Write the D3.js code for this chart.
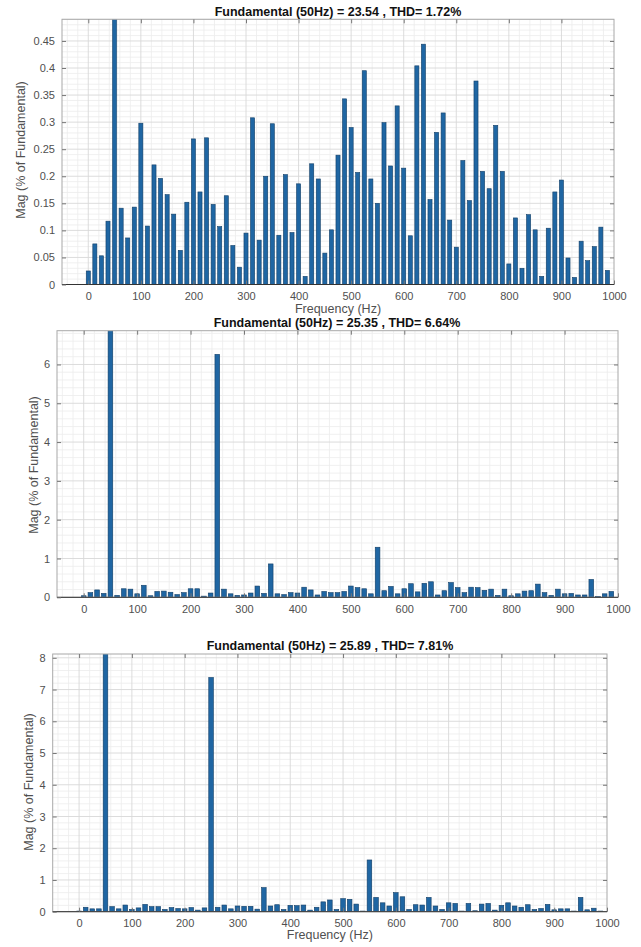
<!DOCTYPE html>
<html>
<head>
<meta charset="utf-8">
<script src="https://cdn.jsdelivr.net/npm/d3@7"></script>
<style>
  html, body { margin: 0; padding: 0; background: #fff; }
  svg { display: block; font-family: "Liberation Sans", Arial, Helvetica, sans-serif; }
</style>
</head>
<body>
<svg id="chart" width="641" height="947"></svg>
<script>
// ---------- DATA ----------
const freqs = [0,12.5,25,37.5,50,62.5,75,87.5,100,112.5,125,137.5,150,162.5,175,187.5,200,212.5,225,237.5,
  250,262.5,275,287.5,300,312.5,325,337.5,350,362.5,375,387.5,400,412.5,425,437.5,450,462.5,475,487.5,
  500,512.5,525,537.5,550,562.5,575,587.5,600,612.5,625,637.5,650,662.5,675,687.5,700,712.5,725,737.5,
  750,762.5,775,787.5,800,812.5,825,837.5,850,862.5,875,887.5,900,912.5,925,937.5,950,962.5,975,987.5];

const mag1 = [0.025,0.075,0.053,0.117,100,0.141,0.086,0.143,0.298,0.108,0.221,0.196,0.166,0.130,0.063,0.152,0.269,0.171,0.271,0.148,
  0.107,0.164,0.072,0.032,0.095,0.308,0.082,0.200,0.297,0.091,0.203,0.096,0.186,0.015,0.223,0.195,0.058,0.101,0.239,0.343,
  0.290,0.207,0.395,0.195,0.150,0.299,0.219,0.330,0.215,0.090,0.404,0.444,0.157,0.281,0.317,0.119,0.069,0.229,0.155,0.376,
  0.209,0.177,0.294,0.209,0.038,0.123,0.030,0.129,0.101,0.015,0.104,0.171,0.193,0.049,0.013,0.080,0.044,0.070,0.106,0.026];

const mag2 = [0.04,0.12,0.19,0.10,100,0.05,0.22,0.21,0.09,0.31,0.04,0.15,0.16,0.13,0.07,0.12,0.22,0.22,0.03,0.11,
  6.26,0.21,0.09,0.05,0.06,0.11,0.29,0.10,0.86,0.09,0.07,0.12,0.11,0.26,0.19,0.06,0.15,0.12,0.12,0.15,
  0.29,0.25,0.22,0.09,1.29,0.17,0.28,0.09,0.22,0.35,0.14,0.36,0.40,0.06,0.17,0.38,0.25,0.12,0.26,0.25,
  0.18,0.21,0.05,0.21,0.04,0.09,0.16,0.17,0.34,0.12,0.05,0.21,0.09,0.10,0.06,0.06,0.46,0.02,0.09,0.15];

const mag3 = [0.02,0.14,0.09,0.09,100,0.16,0.09,0.21,0.07,0.12,0.23,0.16,0.16,0.07,0.13,0.10,0.09,0.13,0.05,0.12,
  7.38,0.14,0.21,0.09,0.18,0.17,0.17,0.08,0.76,0.18,0.22,0.07,0.20,0.19,0.21,0.05,0.14,0.31,0.37,0.07,
  0.41,0.39,0.24,0.02,1.63,0.45,0.28,0.18,0.60,0.47,0.07,0.22,0.21,0.45,0.18,0.07,0.28,0.26,0.02,0.26,
  0.03,0.24,0.26,0.05,0.20,0.28,0.18,0.14,0.22,0.07,0.10,0.23,0.06,0.09,0.09,0.02,0.45,0.06,0.11,0.02];

const titles = [
  "Fundamental (50Hz) = 23.54 , THD= 1.72%",
  "Fundamental (50Hz) = 25.35 , THD= 6.64%",
  "Fundamental (50Hz) = 25.89 , THD= 7.81%"
];
const xTicks = [0,100,200,300,400,500,600,700,800,900,1000];
const yTicks1 = [0,0.05,0.1,0.15,0.2,0.25,0.3,0.35,0.4,0.45];
const yTicks2 = [0,1,2,3,4,5,6];
const yTicks3 = [0,1,2,3,4,5,6,7,8];
const yMax = [0.49, 6.87, 8.12];
const xLabel = "Frequency (Hz)";
const yLabel = "Mag (% of Fundamental)";

// ---------- LAYOUT ----------
const panels = [
  {mag: mag1, yTicks: yTicks1, yMax: yMax[0], minorY: 0.01, title: titles[0],
   left: 62, right: 614, top: 19.3, bottom: 284.5, titleX: 338, titleY: 16, ylabX: 22, ylabY: 150, showXLabel: true, xlabY: 313, barW: 0.62},
  {mag: mag2, yTicks: yTicks2, yMax: yMax[1], minorY: 0.2, title: titles[1],
   left: 57, right: 618, top: 330.7, bottom: 597.3, titleX: 337, titleY: 327, ylabX: 35, ylabY: 465, showXLabel: false, xlabY: 0, barW: 0.7},
  {mag: mag3, yTicks: yTicks3, yMax: yMax[2], minorY: 0.2, title: titles[2],
   left: 52.7, right: 607, top: 654, bottom: 911.7, titleX: 330, titleY: 650, ylabX: 30, ylabY: 782, showXLabel: true, xlabY: 939, barW: 0.7}
];

const svg = d3.select("#chart");
const barFill = "#1f66a3";
const barStroke = "#123e66";
const tickColor = "#505050";

panels.forEach((p, i) => {
  const x = d3.scaleLinear().domain([-50, 1000]).range([p.left, p.right]);
  const y = d3.scaleLinear().domain([0, p.yMax]).range([p.bottom, p.top]);
  const g = svg.append("g");

  // minor grid
  const minorX = d3.range(-40, 1000, 20).filter(v => v % 100 !== 0);
  g.append("g").selectAll("line").data(minorX).join("line")
    .attr("x1", d => x(d)).attr("x2", d => x(d)).attr("y1", p.top).attr("y2", p.bottom)
    .attr("stroke", "#ececec").attr("stroke-width", 0.8);
  const nMinor = Math.floor(p.yMax / p.minorY + 1e-9);
  const minorYs = d3.range(1, nMinor + 1).map(k => k * p.minorY)
    .filter(v => !p.yTicks.some(t => Math.abs(t - v) < 1e-9));
  g.append("g").selectAll("line").data(minorYs).join("line")
    .attr("x1", p.left).attr("x2", p.right).attr("y1", d => y(d)).attr("y2", d => y(d))
    .attr("stroke", "#ececec").attr("stroke-width", 0.8);

  // major grid
  g.append("g").selectAll("line").data(xTicks.filter(t => t < 1000)).join("line")
    .attr("x1", d => x(d)).attr("x2", d => x(d)).attr("y1", p.top).attr("y2", p.bottom)
    .attr("stroke", "#d8d8d8").attr("stroke-width", 0.9);
  g.append("g").selectAll("line").data(p.yTicks.slice(1)).join("line")
    .attr("x1", p.left).attr("x2", p.right).attr("y1", d => y(d)).attr("y2", d => y(d))
    .attr("stroke", "#d8d8d8").attr("stroke-width", 0.9);

  // clip
  const clipId = "clip" + i;
  svg.append("clipPath").attr("id", clipId).append("rect")
    .attr("x", p.left).attr("y", p.top).attr("width", p.right - p.left).attr("height", p.bottom - p.top);

  // bars
  const step = x(12.5) - x(0);
  const bw = step * p.barW;
  g.append("g").attr("clip-path", `url(#${clipId})`)
    .selectAll("rect").data(freqs.map((f, k) => ({f, v: p.mag[k]}))).join("rect")
    .attr("x", d => x(d.f) - bw / 2)
    .attr("width", bw)
    .attr("y", d => y(d.v))
    .attr("height", d => Math.max(0, y(0) - y(d.v)))
    .attr("fill", barFill).attr("stroke", barStroke).attr("stroke-width", 0.6);

  // box
  g.append("rect").attr("x", p.left).attr("y", p.top)
    .attr("width", p.right - p.left).attr("height", p.bottom - p.top)
    .attr("fill", "none").attr("stroke", "#a8a8a8").attr("stroke-width", 1);
  // baseline
  g.append("line").attr("x1", p.left).attr("x2", p.right).attr("y1", y(0)).attr("y2", y(0))
    .attr("stroke", "#333").attr("stroke-width", 1);

  // axes (ticks inward)
  const fmt = v => (Math.round(v * 1000) / 1000).toString();
  const xAxisB = d3.axisBottom(x).tickValues(xTicks).tickSize(-4).tickPadding(8).tickFormat(d3.format("d"));
  const xAxisT = d3.axisTop(x).tickValues(xTicks.filter(t => t < 1000)).tickSize(-4).tickFormat("");
  const yAxisL = d3.axisLeft(y).tickValues(p.yTicks).tickSize(-4).tickPadding(7).tickFormat(fmt);
  const yAxisR = d3.axisRight(y).tickValues(p.yTicks.slice(1)).tickSize(-4).tickFormat("");

  const styleAxis = sel => {
    sel.select(".domain").remove();
    sel.selectAll(".tick line").attr("stroke", "#777");
    sel.selectAll(".tick text").attr("fill", tickColor).style("font-size", "11px");
  };
  g.append("g").attr("transform", `translate(0,${p.bottom})`).call(xAxisB).call(styleAxis);
  g.append("g").attr("transform", `translate(0,${p.top})`).call(xAxisT).call(styleAxis);
  g.append("g").attr("transform", `translate(${p.left},0)`).call(yAxisL).call(styleAxis);
  g.append("g").attr("transform", `translate(${p.right},0)`).call(yAxisR).call(styleAxis);
  g.selectAll("text").attr("font-family", null);

  // title
  g.append("text").attr("x", p.titleX).attr("y", p.titleY)
    .attr("text-anchor", "middle").attr("font-weight", "bold").attr("font-size", "12.5px")
    .attr("fill", "#111").text(p.title);

  // y label
  g.append("text").attr("transform", `translate(${p.ylabX},${p.ylabY}) rotate(-90)`)
    .attr("text-anchor", "middle").attr("dominant-baseline", "middle")
    .attr("font-size", "12.5px").attr("fill", tickColor).text(yLabel);

  // x label
  if (p.showXLabel) {
    g.append("text").attr("x", (p.left + p.right) / 2).attr("y", p.xlabY)
      .attr("text-anchor", "middle").attr("font-size", "12.5px").attr("fill", tickColor).text(xLabel);
  }
});
</script>
</body>
</html>
